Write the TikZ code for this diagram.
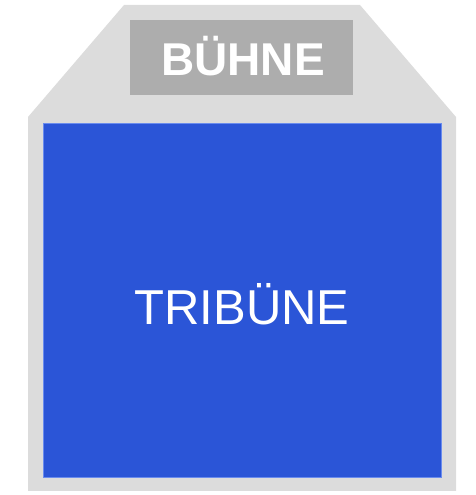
\documentclass[tikz,border=0pt]{standalone}
\usepackage{fontspec}
\setmainfont{Liberation Sans}
\definecolor{outergray}{HTML}{DCDCDC}
\definecolor{stagegray}{HTML}{ADADAD}
\definecolor{tribblue}{HTML}{2B55D7}
\definecolor{tribedge}{HTML}{6A8CEE}
\tikzset{
  bigtext/.style={text=white, inner sep=0pt, anchor=base},
}
\begin{document}
\begin{tikzpicture}[x=1pt,y=1pt]
\useasboundingbox (0,0) rectangle (476,495);
% outer grey outline
\fill[outergray] (124,490) -- (360,490) -- (456,378) -- (456,4) -- (28,4) -- (28,378) -- cycle;
% stage box
\node[fill=stagegray, minimum width=223pt, minimum height=75pt, inner sep=0pt, anchor=north west] (stage) at (130,475) {};
% tribune box
\node[fill=tribblue, draw=tribedge, line width=0.8pt, minimum width=398pt, minimum height=354pt, inner sep=0pt, anchor=north west] (trib) at (43,372) {};
% labels
\node[bigtext, font=\bfseries\fontsize{46}{46}\selectfont] (buehne) at (243,419.3) {BÜHNE};
\node[bigtext, font=\fontsize{49}{49}\selectfont] (tribune) at (242,170) {TRIBÜNE};
\end{tikzpicture}
\end{document}
